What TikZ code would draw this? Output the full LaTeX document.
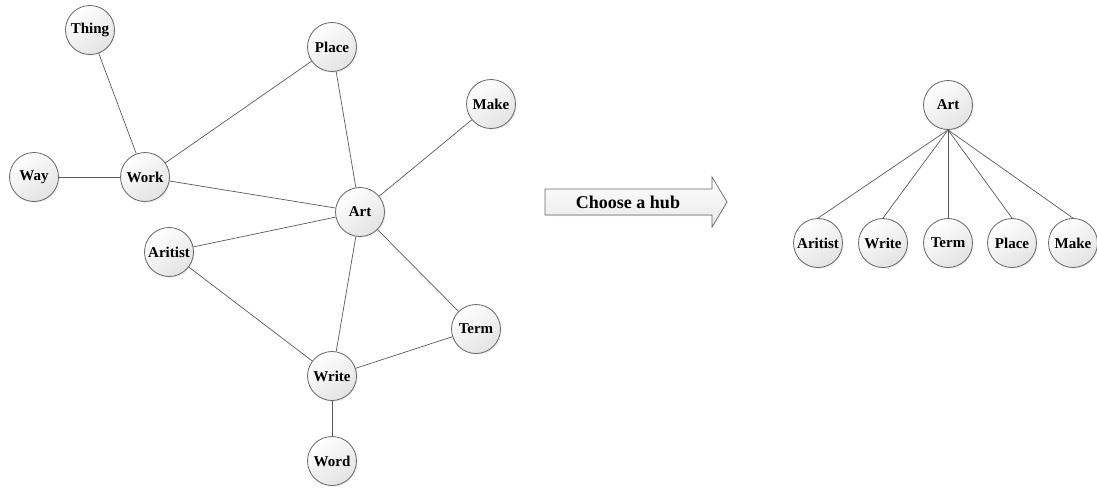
\documentclass[tikz,border=0pt]{standalone}
\usepackage{fontspec}
\setmainfont{Liberation Serif}
\usetikzlibrary{shadows}
\begin{document}
\begin{tikzpicture}[x=1pt,y=-1pt,
  term/.style={circle, draw=black!60, line width=0.8pt, minimum size=49pt, inner sep=0pt,
    top color=white, bottom color=black!11, shading angle=35,
    drop shadow={opacity=0.15, shadow xshift=1.2pt, shadow yshift=-1.2pt},
    font=\fontsize{15}{17}\selectfont\bfseries},
  link/.style={draw=black!65, line width=0.7pt}]
\useasboundingbox (0,0) rectangle (1097,487);

% word graph
\node[term] (thing) at (90,30) {Thing};
\node[term] (way) at (34,177) {Way};
\node[term] (work) at (145,177) {Work};
\node[term] (place) at (332,47) {Place};
\node[term] (make) at (491,104) {Make};
\node[term] (art) at (360,212) {Art};
\node[term] (aritist) at (169,252) {Aritist};
\node[term] (term) at (476,329) {Term};
\node[term] (write) at (332,376) {Write};
\node[term] (word) at (332,461) {Word};

\draw[link] (thing) -- (work);
\draw[link] (way) -- (work);
\draw[link] (work) -- (place);
\draw[link] (work) -- (art);
\draw[link] (place) -- (art);
\draw[link] (make) -- (art);
\draw[link] (art) -- (aritist);
\draw[link] (art) -- (write);
\draw[link] (art) -- (term);
\draw[link] (aritist) -- (write);
\draw[link] (write) -- (term);
\draw[link] (write) -- (word);

% block arrow
\path[draw=black!60, line width=0.7pt, top color=white, bottom color=black!9,
      drop shadow={opacity=0.15, shadow xshift=1pt, shadow yshift=-1pt}]
  (545,189) -- (712,189) -- (712,177) -- (727,202) -- (712,227) -- (712,215)
  -- (545,215) -- cycle;
\node[font=\fontsize{18}{20}\selectfont\bfseries] (hub) at (628,202) {Choose a hub};

% hub tree
\node[term] (hart) at (948,105) {Art};
\node[term] (haritist) at (818,243) {Aritist};
\node[term] (hwrite) at (883,243) {Write};
\node[term] (hterm) at (948,243) {Term};
\node[term] (hplace) at (1012,243) {Place};
\node[term] (hmake) at (1073,243) {Make};
\foreach \c in {haritist,hwrite,hterm,hplace,hmake}
  \draw[link] (hart.south) -- (\c.north);
\end{tikzpicture}
\end{document}
